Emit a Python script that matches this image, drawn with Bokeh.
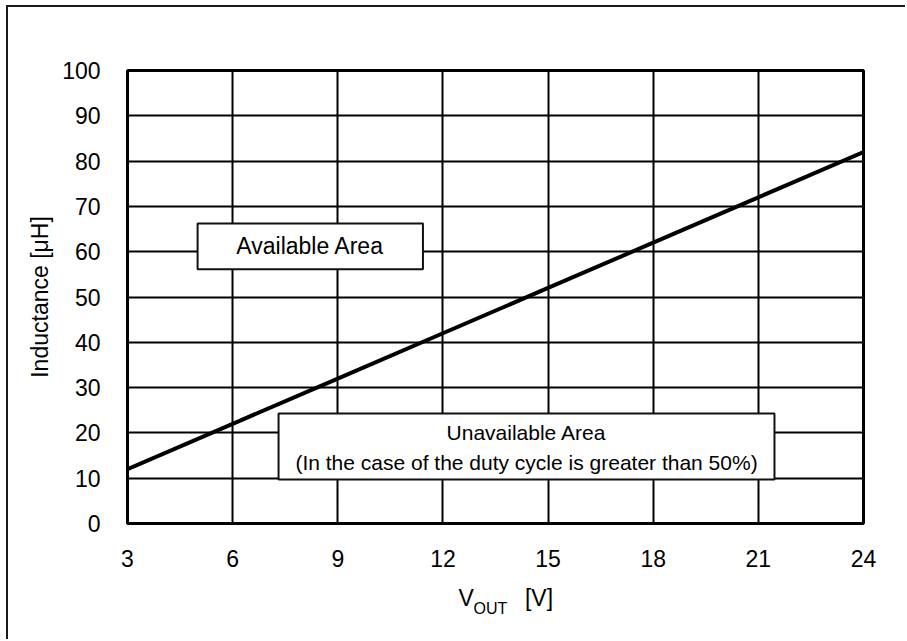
from bokeh.plotting import figure
from bokeh.models import Label, BoxAnnotation, FixedTicker, Title
from bokeh.embed import file_html
from bokeh.resources import INLINE

# ---- data ----
vout = [3, 6, 9, 12, 15, 18, 21, 24]
inductance = [12, 22, 32, 42, 52, 62, 72, 82]
x_ticks = [3, 6, 9, 12, 15, 18, 21, 24]
y_ticks = [0, 10, 20, 30, 40, 50, 60, 70, 80, 90, 100]

avail_box = dict(left=5.0, right=11.43, bottom=56.1, top=66.2)
unavail_box = dict(left=7.31, right=21.46, bottom=9.7, top=24.3)

FONT = "Liberation Sans"
FS = "23px"

p = figure(width=899, height=634, x_range=(3, 24), y_range=(0, 100),
           output_backend="svg", toolbar_location=None,
           min_border_left=119, min_border_right=44,
           min_border_top=63, min_border_bottom=118)
p.styles = {"border-left": "2px solid #1a1a1a", "border-top": "2px solid #1a1a1a",
            "margin-left": "6px", "margin-top": "5px"}

p.background_fill_color = "white"
p.border_fill_color = "white"
p.outline_line_color = "black"
p.outline_line_width = 3

for ax in (p.xaxis, p.yaxis):
    ax.axis_line_color = None
    ax.major_tick_line_color = None
    ax.minor_tick_line_color = None
    ax.major_label_text_font = FONT
    ax.major_label_text_font_size = FS
    ax.major_label_text_color = "black"

p.xaxis.ticker = FixedTicker(ticks=x_ticks)
p.yaxis.ticker = FixedTicker(ticks=y_ticks)
p.xaxis.major_label_standoff = 20
p.yaxis.major_label_standoff = 21

p.yaxis.axis_label = "Inductance [\u03bcH]"
p.yaxis.axis_label_text_font = FONT
p.yaxis.axis_label_text_font_size = FS
p.yaxis.axis_label_text_font_style = "normal"
p.yaxis.axis_label_text_color = "black"
p.yaxis.axis_label_standoff = 6

p.xgrid.ticker = FixedTicker(ticks=x_ticks)
p.ygrid.ticker = FixedTicker(ticks=y_ticks)
p.grid.grid_line_color = "black"
p.grid.grid_line_width = 2
p.grid.grid_line_alpha = 1

p.line(vout, inductance, line_color="black", line_width=4)

for b in (avail_box, unavail_box):
    p.add_layout(BoxAnnotation(fill_color="white", fill_alpha=1,
                               line_color="#111111", line_width=2, line_alpha=1, **b))

def add_text(x, y, t, size=FS):
    p.add_layout(Label(x=x, y=y, text=t, text_font=FONT, text_font_size=size,
                       text_align="center", text_baseline="middle", text_color="black"))

add_text((avail_box["left"] + avail_box["right"]) / 2, (avail_box["top"] + avail_box["bottom"]) / 2,
         "Available Area")
ucx = (unavail_box["left"] + unavail_box["right"]) / 2
add_text(ucx, 20.1, "Unavailable Area", size="21px")
add_text(ucx, 13.5, "(In the case of the duty cycle is greater than 50%)", size="21px")

# x-axis label: V_OUT  [V]  built from titles placed below the axis
NB = "\u00a0"
t_main = Title(text="V" + NB * 8 + "[V]", align="left", offset=331, standoff=27,
               text_font=FONT, text_font_size=FS, text_font_style="normal",
               text_color="black")
t_sub = Title(text="OUT", align="left", offset=346, standoff=-50, vertical_align="top",
              text_font=FONT, text_font_size="16px", text_font_style="normal",
              text_color="black")
p.add_layout(t_main, "below")
p.add_layout(t_sub, "below")

open("out.html", "w").write(file_html(p, INLINE))
